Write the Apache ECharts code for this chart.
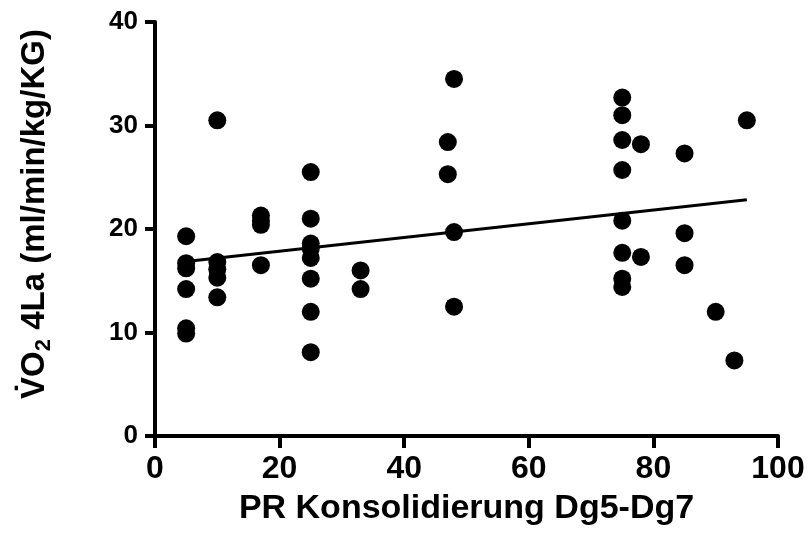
<!DOCTYPE html>
<html>
<head>
<meta charset="utf-8">
<script src="https://cdn.jsdelivr.net/npm/echarts@6/dist/echarts.min.js"></script>
<style>
html,body{margin:0;padding:0;background:#fff;}
#chart{width:808px;height:538px;}
</style>
</head>
<body>
<div id="chart"></div>
<script>
// Data
var prValues = [5,5,5,5,5,5, 10,10,10,10,10, 17,17,17,17, 25,25,25,25,25,25,25,25, 33,33, 47,47, 48,48,48, 75,75,75,75,75,75,75,75, 78,78, 85,85,85, 90, 93, 95];
var vo2Values = [19.3,16.7,16.2,14.2,10.4,9.9, 30.5,16.8,16.1,15.3,13.4, 21.3,20.8,20.4,16.5, 25.5,21.0,18.6,18.1,17.2,15.2,12.0,8.1, 16.0,14.2, 28.4,25.3, 34.5,19.7,12.5, 32.7,31.0,28.6,25.7,20.8,17.7,15.2,14.4, 28.2,17.3, 27.3,19.6,16.5, 12.0, 7.3, 30.5];
var xTicks = [0,20,40,60,80,100];
var yTicks = [0,10,20,30,40];
var xTitle = 'PR Konsolidierung Dg5-Dg7';

var points = prValues.map(function(x,i){return [x, vo2Values[i]];});

// least squares fit line across the data range
var n = prValues.length, sx=0, sy=0, sxx=0, sxy=0;
for (var i=0;i<n;i++){sx+=prValues[i];sy+=vo2Values[i];sxx+=prValues[i]*prValues[i];sxy+=prValues[i]*vo2Values[i];}
var slope = (n*sxy - sx*sy)/(n*sxx - sx*sx);
var icpt = (sy - slope*sx)/n;
var xmin = Math.min.apply(null, prValues), xmax = Math.max.apply(null, prValues);
var fitLine = [[xmin, icpt+slope*xmin],[xmax, icpt+slope*xmax]];

var FONT = '"Liberation Sans", Arial, Helvetica, sans-serif';
var chart = echarts.init(document.getElementById('chart'));
chart.setOption({
  animation:false,
  backgroundColor:'#ffffff',
  grid:{left:155, right:30, top:22, bottom:102, containLabel:false},
  xAxis:{
    type:'value', min:xTicks[0], max:xTicks[xTicks.length-1], interval:20,
    splitLine:{show:false},
    axisLine:{show:true, onZero:false, lineStyle:{color:'#000', width:4}},
    axisTick:{show:true, length:12, lineStyle:{color:'#000', width:4}},
    axisLabel:{color:'#000', fontSize:32, fontWeight:'bold', fontFamily:FONT, margin:17},
    name:xTitle, nameLocation:'middle', nameGap:56,
    nameTextStyle:{color:'#000', fontSize:34, fontWeight:'bold', fontFamily:FONT}
  },
  yAxis:{
    type:'value', min:yTicks[0], max:yTicks[yTicks.length-1], interval:10,
    splitLine:{show:false},
    axisLine:{show:true, onZero:false, lineStyle:{color:'#000', width:4}},
    axisTick:{show:true, length:10, lineStyle:{color:'#000', width:4}},
    axisLabel:{color:'#000', fontSize:26, fontWeight:'bold', fontFamily:FONT, margin:17},
    name:'{a|V\u0307O}{s|2}{a| 4La (ml/min/kg/KG)}', nameLocation:'middle', nameGap:100, nameRotate:90,
    nameTextStyle:{
      color:'#000', fontSize:33, fontWeight:'bold', fontFamily:FONT, padding:[0,0,0,30],
      rich:{
        a:{color:'#000', fontSize:33, fontWeight:'bold', fontFamily:FONT, lineHeight:42, verticalAlign:'bottom', padding:[0,0,4,0]},
        s:{color:'#000', fontSize:22, fontWeight:'bold', fontFamily:FONT, lineHeight:24, verticalAlign:'bottom'}
      }
    }
  },
  series:[
    {type:'scatter', data:points, symbol:'circle', symbolSize:18, itemStyle:{color:'#000', opacity:1}, z:3},
    {type:'line', data:fitLine, symbol:'none', lineStyle:{color:'#000', width:3}, z:4}
  ]
});
</script>
</body>
</html>
